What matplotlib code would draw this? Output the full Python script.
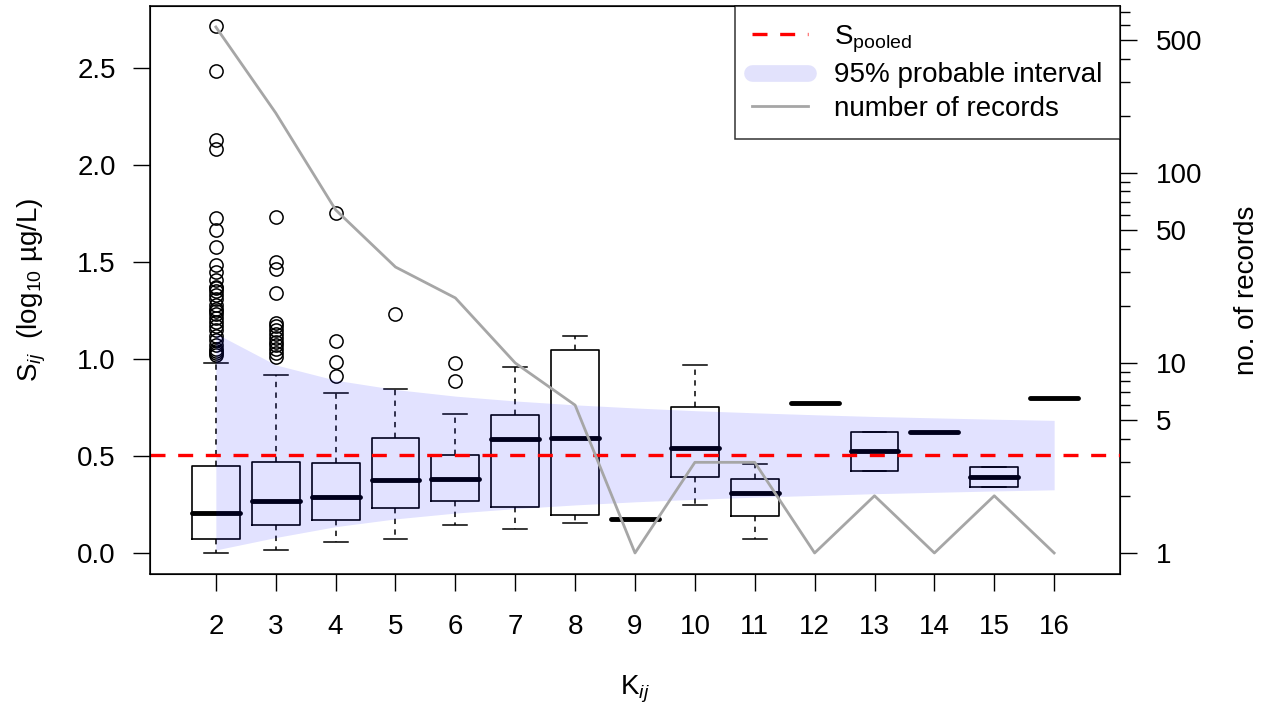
import matplotlib
matplotlib.use('Agg')
import matplotlib.pyplot as plt
from matplotlib.lines import Line2D
from matplotlib.ticker import FixedLocator, NullFormatter

plt.rcParams['font.family'] = ['Liberation Sans', 'DejaVu Sans']
plt.rcParams['mathtext.fontset'] = 'custom'
plt.rcParams['mathtext.rm'] = 'Liberation Sans'
plt.rcParams['mathtext.it'] = 'Liberation Sans:italic'
plt.rcParams['mathtext.default'] = 'it'

# K values and box stats (S_ij, log10 ug/L)
k_vals = [2, 3, 4, 5, 6, 7, 8, 9, 10, 11, 12, 13, 14, 15, 16]
whis_lo = [0.0, 0.017, 0.057, 0.074, 0.143, 0.125, 0.156, 0.174, 0.249, 0.071, 0.775, 0.423, 0.622, 0.340, 0.797]
q1 = [0.074, 0.144, 0.168, 0.232, 0.268, 0.237, 0.194, 0.174, 0.393, 0.190, 0.775, 0.423, 0.622, 0.340, 0.797]
med = [0.208, 0.270, 0.290, 0.376, 0.380, 0.586, 0.591, 0.174, 0.539, 0.311, 0.775, 0.524, 0.622, 0.393, 0.797]
q3 = [0.450, 0.467, 0.464, 0.593, 0.503, 0.713, 1.046, 0.174, 0.754, 0.384, 0.775, 0.624, 0.622, 0.445, 0.797]
whis_hi = [0.979, 0.919, 0.826, 0.847, 0.715, 0.960, 1.120, 0.174, 0.969, 0.457, 0.775, 0.624, 0.622, 0.445, 0.797]

outliers = {
    2: [2.715, 2.486, 2.129, 2.085, 1.725, 1.665, 1.579, 1.485, 1.45, 1.41, 1.37, 1.365,
        1.35, 1.33, 1.31, 1.28, 1.26, 1.25, 1.23, 1.21, 1.19, 1.17, 1.15, 1.12, 1.10,
        1.07, 1.05, 1.04, 1.03, 1.02],
    3: [1.73, 1.50, 1.465, 1.34, 1.185, 1.17, 1.15, 1.13, 1.11, 1.09, 1.07, 1.05, 1.03, 1.01],
    4: [1.751, 1.094, 0.983, 0.914],
    5: [1.23],
    6: [0.981, 0.887],
}

# number of records per K
n_records = [587, 207, 64, 32, 22, 10, 6, 1, 3, 3, 1, 2, 1, 2, 1]

# pooled S and 95% probable interval
s_pooled = 0.505
band_lo = [0.016, 0.080, 0.136, 0.176, 0.206, 0.229, 0.248, 0.264, 0.277, 0.288, 0.297, 0.306, 0.313, 0.320, 0.326]
band_hi = [1.132, 0.970, 0.891, 0.843, 0.809, 0.784, 0.764, 0.748, 0.734, 0.723, 0.713, 0.704, 0.697, 0.690, 0.684]

fs = 20

fig = plt.figure(figsize=(12.7, 7.11), dpi=100)
ax = fig.add_axes([150 / 1270, 137 / 711, 970 / 1270, 568 / 711])

stats = []
for i, k in enumerate(k_vals):
    stats.append(dict(whislo=whis_lo[i], q1=q1[i], med=med[i], q3=q3[i],
                      whishi=whis_hi[i], fliers=outliers.get(k, [])))

ax.bxp(stats, positions=k_vals, widths=0.8, manage_ticks=False,
       boxprops=dict(color='black', linewidth=1.2),
       medianprops=dict(color='black', linewidth=3.5, solid_capstyle='round'),
       whiskerprops=dict(color='black', linewidth=1.1, linestyle=(0, (3.5, 3.5))),
       capprops=dict(color='black', linewidth=1.1),
       flierprops=dict(marker='o', markerfacecolor='none', markeredgecolor='black',
                       markersize=9.5, markeredgewidth=1.1),
       capwidths=0.4)

ax.fill_between(k_vals, band_lo, band_hi, color=(0, 0, 1), alpha=0.115,
                linewidth=0, zorder=3)
ax.axhline(s_pooled, color='red', linewidth=2.4, dashes=(4.5, 3.8), zorder=4)

ax.set_xlim(0.9, 17.1)
ax.set_ylim(-0.108, 2.82)
ax.set_xticks(k_vals)
ax.set_xticklabels([str(k) for k in k_vals])
ax.set_yticks([0.0, 0.5, 1.0, 1.5, 2.0, 2.5])
ax.set_yticklabels(['0.0', '0.5', '1.0', '1.5', '2.0', '2.5'])
ax.tick_params(labelsize=fs, length=12.5, width=1)
ax.tick_params(axis='x', pad=16.5)
ax.tick_params(axis='y', pad=12)
for s in ax.spines.values():
    s.set_linewidth(1.1)

ax.set_xlabel(r'K$_{ij}$', fontsize=fs, labelpad=24)
ax.set_ylabel(r'S$_{ij}$  (log$_{\mathrm{10}}$ µg/L)', fontsize=fs, labelpad=21)

ax2 = ax.twinx()
ax2.plot(k_vals, n_records, color='#A6A6A6', linewidth=2)
ax2.set_yscale('log')
ax2.set_ylim(0.775, 757)
major = [1, 5, 10, 50, 100, 500]
minor = [2, 3, 4, 6, 7, 8, 9, 20, 30, 40, 60, 70, 80, 90, 200, 300, 400, 600, 700]
ax2.yaxis.set_major_locator(FixedLocator(major))
ax2.yaxis.set_minor_locator(FixedLocator(minor))
ax2.yaxis.set_minor_formatter(NullFormatter())
ax2.set_yticklabels([str(m) for m in major])
ax2.tick_params(axis='y', which='major', labelsize=fs, length=12.5, width=1, pad=13)
ax2.tick_params(axis='y', which='minor', length=7, width=1)
ax2.set_ylabel('no. of records', fontsize=fs, labelpad=23)

handles = [
    Line2D([], [], color='red', linewidth=2.4, dashes=(4.5, 3.8)),
    Line2D([], [], color='#E2E2FC', linewidth=12, solid_capstyle='round'),
    Line2D([], [], color='#A6A6A6', linewidth=2),
]
labels = [r'S$_{\mathrm{pooled}}$', '95% probable interval', 'number of records']
leg = ax2.legend(handles, labels, loc='upper right', fontsize=fs, frameon=True,
                 fancybox=False, borderaxespad=0, handlelength=2.0,
                 borderpad=0.62, labelspacing=0.28, handletextpad=0.95)
leg.get_frame().set_edgecolor('black')
leg.get_frame().set_linewidth(1.1)

fig.savefig('out.png', dpi=100)
